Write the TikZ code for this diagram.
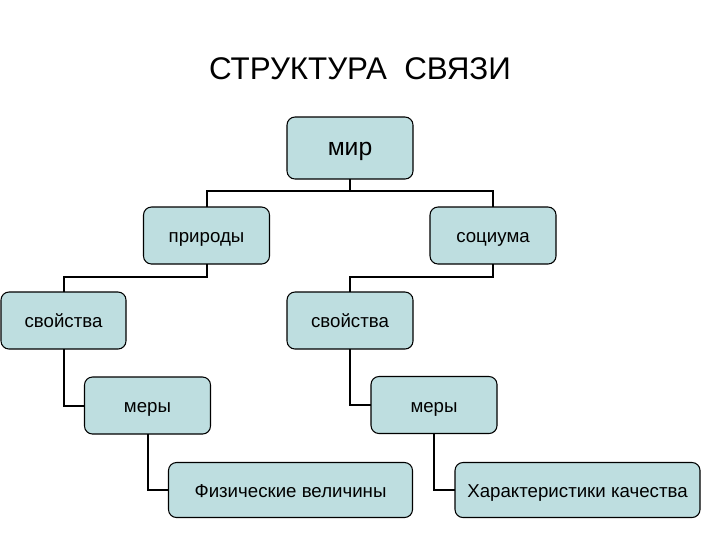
\documentclass[tikz,border=0pt]{standalone}
\usepackage{fontspec}
\setmainfont{Liberation Sans}
\definecolor{boxfill}{RGB}{190,222,224}
\begin{document}
\begin{tikzpicture}[x=0.75pt,y=-0.75pt,
  bx/.style={draw=black,line width=0.8pt,fill=boxfill,rounded corners=6pt,
    inner sep=0pt,outer sep=0pt,minimum width=#1,text height=2ex,text depth=0pt,
    font=\fontsize{14}{16}\selectfont},
  bx/.default=94.5pt,
  link/.style={draw=black,line width=1.5pt}]
\useasboundingbox (0,0) rectangle (720,540);
\node (title) at (360,69) {\fontsize{23.5}{28}\selectfont СТРУКТУРА\ \ СВЯЗИ};
\node[bx, minimum height=46.5pt, font=\fontsize{18.5}{20}\selectfont] (mir) at (350,148) {мир};
\node[bx, minimum height=42.75pt] (prir) at (206.5,235.5) {природы};
\node[bx, minimum height=42.75pt] (soc) at (493,235.5) {социума};
\node[bx=93.75pt, minimum height=42.75pt] (svL) at (63.5,320.5) {свойства};
\node[bx, minimum height=42.75pt] (svR) at (350,320.5) {свойства};
\node[bx, minimum height=42.75pt] (merL) at (147.5,405.5) {меры};
\node[bx, minimum height=42.75pt] (merR) at (434,405) {меры};
\node[bx=183pt, minimum height=41.25pt] (fiz) at (290.5,490) {Физические величины};
\node[bx=183.75pt, minimum height=41.25pt] (har) at (577.5,490) {Характеристики качества};
\draw[link] (mir.south) -- ++(0,12) -| (prir.north);
\draw[link] (mir.south) -- ++(0,12) -| (soc.north);
\draw[link] (prir.south) -- ++(0,13) -| (svL.north);
\draw[link] (soc.south) -- ++(0,13) -| (svR.north);
\draw[link] (svL.south) |- (merL.west);
\draw[link] (svR.south) |- (merR.west);
\draw[link] (merL.south) |- (fiz.west);
\draw[link] (merR.south) |- (har.west);
\end{tikzpicture}
\end{document}
